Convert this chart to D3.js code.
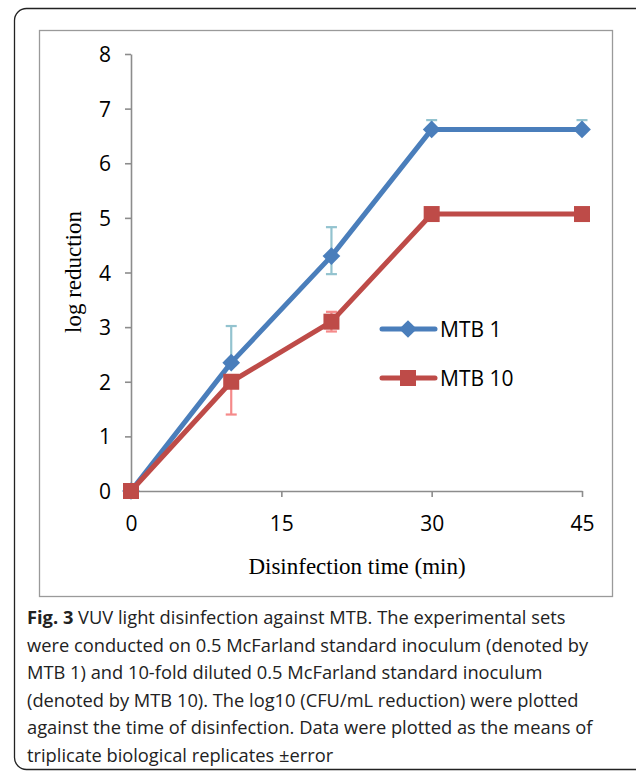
<!DOCTYPE html>
<html>
<head>
<meta charset="utf-8">
<script src="https://cdn.jsdelivr.net/npm/d3@7"></script>
<style>
  body { margin: 0; background: #fff; }
</style>
</head>
<body>
<div id="chart"></div>
<script>
const times = [0, 10, 20, 30, 45]
const mtb1 = [0, 2.35, 4.3, 6.62, 6.62]
const mtb1ErrPlus = [0, 0.67, 0.53, 0.17, 0.17]
const mtb1ErrMinus = [0, 0, 0.33, 0, 0]
const mtb10 = [0, 2.0, 3.1, 5.07, 5.07]
const mtb10ErrPlus = [0, 0, 0.18, 0, 0]
const mtb10ErrMinus = [0, 0.6, 0.18, 0, 0]
const xTicks = [0, 15, 30, 45]
const yTicks = [0, 1, 2, 3, 4, 5, 6, 7, 8]
const captionLines = [
    ["Fig. 3", " VUV light disinfection against MTB. The experimental sets"],
    ["", "were conducted on 0.5 McFarland standard inoculum (denoted by"],
    ["", "MTB 1) and 10-fold diluted 0.5 McFarland standard inoculum"],
    ["", "(denoted by MTB 10). The log10 (CFU/mL reduction) were plotted"],
    ["", "against the time of disinfection. Data were plotted as the means of"],
    ["", "triplicate biological replicates \u00b1error"]
]

const series = [
    { name: "MTB 1", values: mtb1, plus: mtb1ErrPlus, minus: mtb1ErrMinus, color: "#4a7ebb", errColor: "#93c3cf", marker: "diamond" },
    { name: "MTB 10", values: mtb10, plus: mtb10ErrPlus, minus: mtb10ErrMinus, color: "#be4b48", errColor: "#f58a8a", marker: "square" }
]

const W = 636, H = 772
const svg = d3.select("#chart").append("svg")
              .attr("width", W)
              .attr("height", H)

// outer frame and chart box
svg.append("rect")
   .attr("x", 14.5).attr("y", 8.5)
   .attr("width", 640).attr("height", 761)
   .attr("rx", 12)
   .attr("fill", "none")
   .attr("stroke", "#222")
   .attr("stroke-width", 1.3)

svg.append("rect")
   .attr("x", 39.5).attr("y", 30.5)
   .attr("width", 573).attr("height", 566)
   .attr("fill", "none")
   .attr("stroke", "#9a9a9a")
   .attr("stroke-width", 1.3)

const x = d3.scaleLinear().domain([0, 45]).range([131, 582])
const y = d3.scaleLinear().domain([0, 8]).range([491, 54])

const axisColor = "#8c8c8c"
const tickFont = "'Open Sans', sans-serif"

const gx = svg.append("g")
              .attr("transform", "translate(0," + y(0) + ")")
              .call(d3.axisBottom(x).tickValues(xTicks).tickSize(6).tickPadding(19).tickSizeOuter(0))
const gy = svg.append("g")
              .attr("transform", "translate(" + x(0) + ",0)")
              .call(d3.axisLeft(y).tickValues(yTicks).tickSize(6).tickPadding(14).tickSizeOuter(0))

for (const g of [gx, gy]) {
    g.select(".domain").attr("stroke", axisColor).attr("stroke-width", 1.6)
    g.selectAll(".tick line").attr("stroke", axisColor).attr("stroke-width", 1.6)
    g.selectAll(".tick text")
     .attr("fill", "#000")
     .style("font-family", tickFont)
     .style("font-size", "21px")
}
gy.selectAll(".tick text").attr("dy", "0.36em")

// axis titles
svg.append("text")
   .attr("x", 357).attr("y", 574)
   .attr("text-anchor", "middle")
   .style("font-family", "'Liberation Serif', 'Times New Roman', serif")
   .style("font-size", "23px")
   .text("Disinfection time (min)")

svg.append("text")
   .attr("transform", "translate(81,272) rotate(-90)")
   .attr("text-anchor", "middle")
   .style("font-family", "'Liberation Serif', 'Times New Roman', serif")
   .style("font-size", "23px")
   .text("log reduction")

// error bars beneath the lines
const errG = svg.append("g")
for (const s of [series[1], series[0]]) {
    s.values.forEach((v, i) => {
        const cx = x(times[i])
        for (const e of [s.plus[i], -s.minus[i]]) {
            if (e === 0) continue
            const yy = y(v + e)
            errG.append("line")
                .attr("x1", cx).attr("x2", cx).attr("y1", y(v)).attr("y2", yy)
                .attr("stroke", s.errColor).attr("stroke-width", 2.2)
            errG.append("line")
                .attr("x1", cx - 5.5).attr("x2", cx + 5.5).attr("y1", yy).attr("y2", yy)
                .attr("stroke", s.errColor).attr("stroke-width", 2.2)
        }
    })
}

const line = d3.line()
               .x((d, i) => x(times[i]))
               .y(d => y(d))

function drawMarker(g, type, cx, cy, color) {
    if (type === "diamond") {
        g.append("path")
         .attr("d", d3.symbol().type(d3.symbolDiamond2).size(200)())
         .attr("transform", "translate(" + cx + "," + cy + ")")
         .attr("fill", color)
    } else {
        g.append("rect")
         .attr("x", cx - 8).attr("y", cy - 8)
         .attr("width", 16).attr("height", 16)
         .attr("fill", color)
    }
}

for (const s of series) {
    const g = svg.append("g")
    g.append("path")
     .datum(s.values)
     .attr("fill", "none")
     .attr("stroke", s.color)
     .attr("stroke-width", 5)
     .attr("stroke-linejoin", "round")
     .attr("d", line)
    s.values.forEach((v, i) => drawMarker(g, s.marker, x(times[i]), y(v), s.color))
}

// legend
const legend = svg.append("g")
series.forEach((s, i) => {
    const ly = 329 + i * 49
    legend.append("line")
          .attr("x1", 382).attr("x2", 435).attr("y1", ly).attr("y2", ly)
          .attr("stroke", s.color).attr("stroke-width", 5).attr("stroke-linecap", "round")
    drawMarker(legend, s.marker, 408, ly, s.color)
    legend.append("text")
          .attr("x", 440).attr("y", ly)
          .attr("dy", "0.36em")
          .style("font-family", tickFont)
          .style("font-size", "21px")
          .text(s.name)
})

// caption
const cap = svg.append("g")
captionLines.forEach((l, i) => {
    const t = cap.append("text")
                 .attr("x", 27).attr("y", 624 + i * 27.6)
                 .style("font-family", "'Open Sans', sans-serif")
                 .style("font-size", "18.3px")
                 .attr("fill", "#222")
    if (l[0]) t.append("tspan").style("font-weight", "bold").text(l[0])
    t.append("tspan").text(l[1])
})
</script>
</body>
</html>
